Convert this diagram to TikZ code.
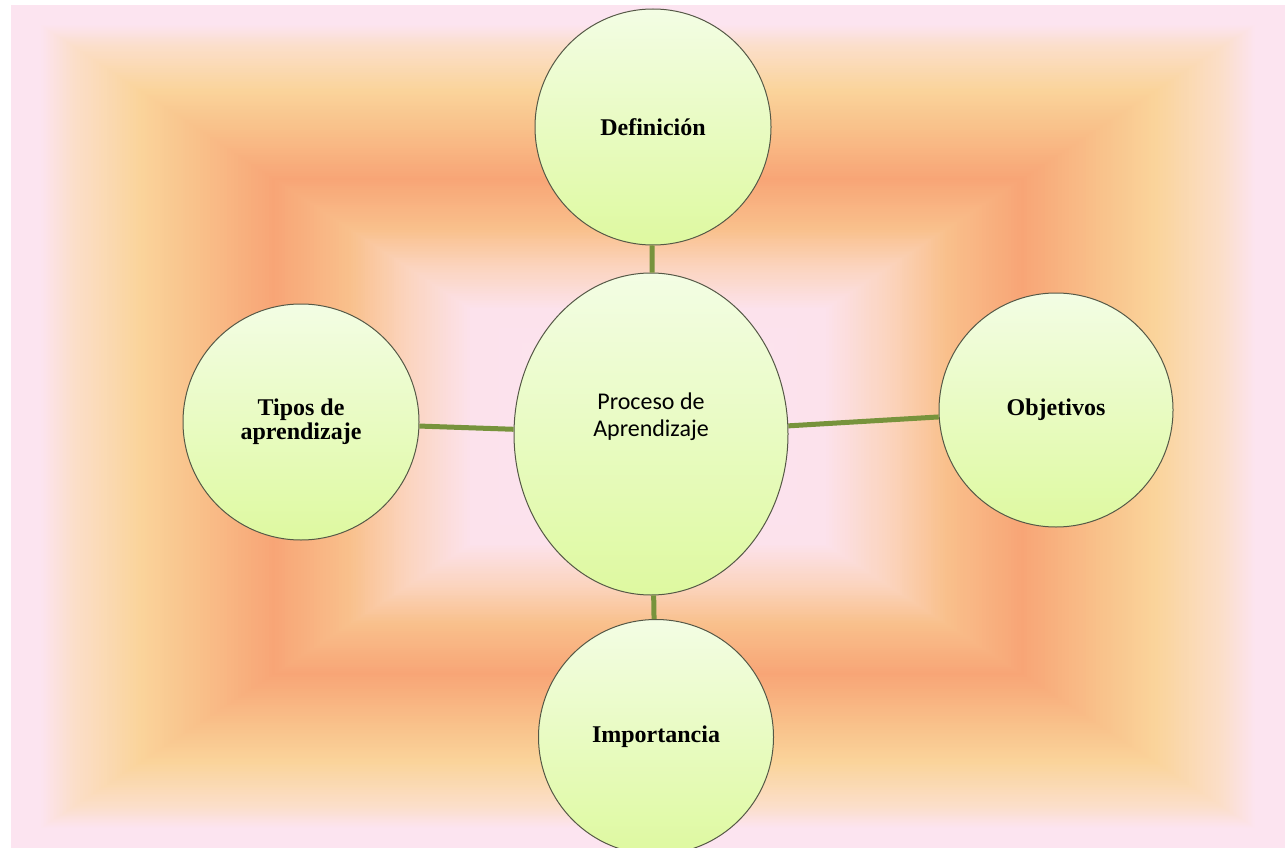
\documentclass[tikz,border=0pt]{standalone}
\usepackage{fontspec}
\setmainfont{Liberation Serif}
\newfontfamily\carlitofont{Carlito}
\usetikzlibrary{shapes.geometric}
\definecolor{cA}{RGB}{252,228,240}
\definecolor{cB}{RGB}{251,222,200}
\definecolor{cC}{RGB}{250,212,155}
\definecolor{cD}{RGB}{249,195,140}
\definecolor{cE}{RGB}{248,165,118}
\definecolor{cF}{RGB}{249,192,140}
\definecolor{cG}{RGB}{251,212,190}
\definecolor{cH}{RGB}{252,226,236}
\definecolor{cI}{RGB}{252,228,240}
\definecolor{bubtop}{RGB}{243,253,228}
\definecolor{bubbot}{RGB}{222,249,160}
\definecolor{bubline}{RGB}{85,88,70}
\definecolor{linkgreen}{RGB}{119,147,60}
\newcommand\bgseg[4]{%
  \foreach \k in {24,...,1}{%
    \pgfmathsetmacro\bgt{#1+(#2-#1)*\k/24}%
    \pgfmathsetmacro\bgp{100*\k/24}%
    \pgfmathsetmacro\bghw{\bgt*637}%
    \pgfmathsetmacro\bghh{\bgt*421.5}%
    \fill[#4!\bgp!#3] (648-\bghw,426.5-\bghh) rectangle (648+\bghw,426.5+\bghh);
  }}
\tikzset{
  bubble/.style={circle, draw=bubline, line width=1pt, top color=bubtop, bottom color=bubbot,
    inner sep=0pt, minimum size=236pt, align=center,
    font=\fontsize{24}{24}\selectfont\bfseries},
  hub/.style={ellipse, draw=bubline, line width=1pt, top color=bubtop, bottom color=bubbot,
    inner sep=0pt, minimum width=274pt, minimum height=322pt},
  hubtext/.style={align=center, font=\carlitofont\fontsize{24}{27}\selectfont},
  link/.style={draw=linkgreen, line width=5pt}
}
\begin{document}
\begin{tikzpicture}[x=1pt,y=-1pt]
\useasboundingbox (0,0) rectangle (1285,848);
\clip (0,0) rectangle (1285,848);
\fill[white] (0,0) rectangle (1285,848);
% background rectangular gradient
\fill[cA] (11,5) rectangle (1285,848);
\bgseg{0.90}{0.955}{cB}{cA}
\bgseg{0.80}{0.90}{cC}{cB}
\bgseg{0.72}{0.80}{cD}{cC}
\bgseg{0.59}{0.72}{cE}{cD}
\bgseg{0.47}{0.59}{cF}{cE}
\bgseg{0.38}{0.47}{cG}{cF}
\bgseg{0.28}{0.38}{cH}{cG}
\bgseg{0}{0.28}{cI}{cH}
% nodes
\node[hub] (hub) at (651,434) {};
\node[hubtext] (hubtxt) at (651,417) {Proceso de\\Aprendizaje};
\node[bubble] (def) at (653,127) {Definición};
\node[bubble] (tipos) at (301,422) {Tipos de\\aprendizaje};
\node[bubble, minimum size=234pt] (obj) at (1056,410) {Objetivos};
\node[bubble, minimum size=235pt] (imp) at (656,737) {Importancia};
% connectors
\draw[link] (hub) -- (def);
\draw[link] (hub) -- (tipos);
\draw[link] (hub) -- (obj);
\draw[link] (hub) -- (imp);
\end{tikzpicture}
\end{document}
